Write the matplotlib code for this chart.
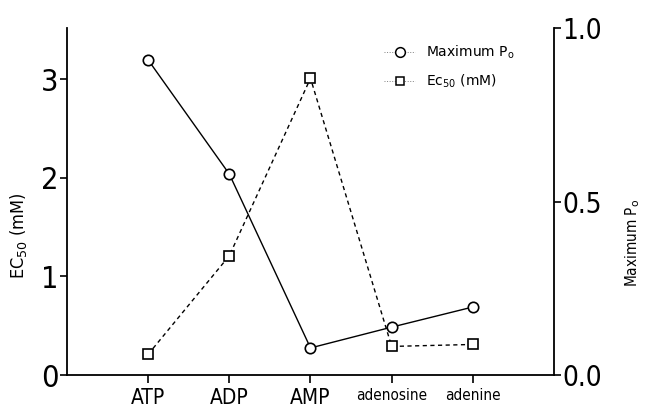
import numpy as np
import matplotlib
matplotlib.use('Agg')
import matplotlib.pyplot as plt
from matplotlib.lines import Line2D

# data
categories = ['ATP', 'ADP', 'AMP', 'adenosine', 'adenine']
ec50_mM = [0.21, 1.21, 3.01, 0.29, 0.31]
max_po = [0.908, 0.579, 0.078, 0.138, 0.196]

narrow = dict(family='DejaVu Sans', stretch='condensed')

fig = plt.figure(figsize=(6.46, 4.09), dpi=100)
ax = fig.add_axes([0.1037, 0.0831, 0.7539, 0.8484])
ax2 = ax.twinx()

x = np.arange(1, len(categories) + 1)

ax.plot(x, ec50_mM, '--', color='black', lw=1.0, dashes=(3, 2.5),
        marker='s', ms=7, mfc='white', mec='black', mew=1.2, zorder=3)
ax2.plot(x, max_po, '-', color='black', lw=1.0,
         marker='o', ms=7.5, mfc='white', mec='black', mew=1.2, zorder=3)

ax.set_xlim(0, 6)
ax.set_ylim(0, 3.52)
ax2.set_ylim(0, 1.0)

ax.set_xticks(x)
ax.set_xticklabels(categories, **narrow)
for lab in ax.get_xticklabels():
    lab.set_fontsize(11 if len(lab.get_text()) > 3 else 15)

ax.set_yticks([0, 1, 2, 3])
ax.set_yticklabels(['0', '1', '2', '3'], fontsize=22, **narrow)
ax2.set_yticks([0.0, 0.5, 1.0])
ax2.set_yticklabels(['0.0', '0.5', '1.0'], fontsize=20, **narrow)

for a in (ax, ax2):
    a.spines['top'].set_visible(False)
    for s in a.spines.values():
        s.set_linewidth(1.3)
ax.spines['right'].set_visible(False)
ax2.spines['left'].set_visible(False)
ax2.spines['bottom'].set_visible(False)

ax.tick_params(axis='y', direction='out', length=5, width=1.2, pad=1)
ax.tick_params(axis='x', direction='out', length=6, width=1.2, pad=3)
ax2.tick_params(axis='y', direction='out', length=5, width=1.2, pad=1)

ax.set_ylabel('EC$_{50}$ (mM)', fontsize=13, **narrow)
ax.yaxis.set_label_coords(-0.078, 0.40)
ax2.set_ylabel(r'Maximum P$_\mathrm{o}$', fontsize=11, **narrow)
ax2.yaxis.set_label_coords(1.142, 0.38)

handles = [
    Line2D([], [], color='gray', ls=':', lw=0.7, marker='o', ms=7,
           mfc='white', mec='black', mew=1.1),
    Line2D([], [], color='gray', ls=':', lw=0.7, marker='s', ms=6,
           mfc='white', mec='black', mew=1.1),
]
ax2.legend(handles, [r'Maximum P$_\mathrm{o}$', r'Ec$_{50}$ (mM)'], loc='upper right',
           bbox_to_anchor=(0.945, 0.99), frameon=False, handlelength=2.2,
           labelspacing=0.8, prop={'family': 'DejaVu Sans', 'size': 10})

fig.savefig('out.png', dpi=100)
